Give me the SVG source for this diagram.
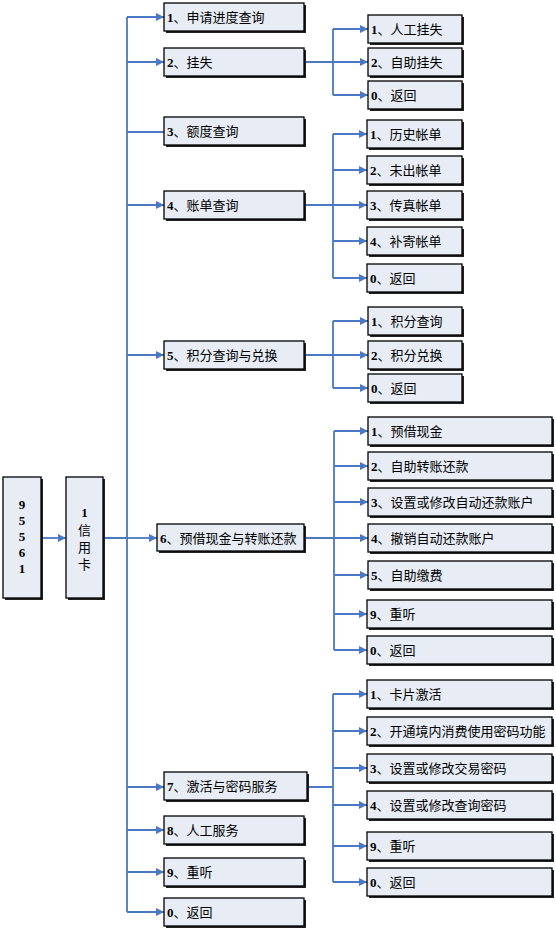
<svg xmlns="http://www.w3.org/2000/svg" width="556" height="930" viewBox="0 0 556 930">
<style>
.box{fill:#E7ECF5;stroke:#000;stroke-width:1.3}
.sh{fill:#222}
.t{font-family:"Liberation Serif","Noto Sans CJK SC",serif;font-size:13px;fill:#000}
.d{font-weight:bold}
.c{fill:none;stroke:#4A78C4;stroke-width:1.8}
.a{fill:none;stroke:#4A78C4;stroke-width:1.8;marker-end:url(#ah)}
</style>
<defs>
<marker id="ah" markerUnits="userSpaceOnUse" markerWidth="9" markerHeight="9" refX="8" refY="4.5" orient="auto">
<path d="M0,0.5 L8,4.5 L0,8.5 z" fill="#4A78C4"/>
</marker>
</defs>
<rect width="556" height="930" fill="#fff"/>
<g id="connectors">
<path class="a" d="M41,538 H66"/>
<path class="c" d="M103,538 H127 M127,17 V912"/>
<path class="a" d="M127,17 H164"/>
<path class="a" d="M127,62 H164"/>
<path class="c" d="M127,132 H164"/>
<path class="a" d="M127,205 H164"/>
<path class="a" d="M127,355 H164"/>
<path class="a" d="M127,538 H157"/>
<path class="a" d="M127,787 H164"/>
<path class="a" d="M127,830 H164"/>
<path class="a" d="M127,872 H164"/>
<path class="a" d="M127,912 H164"/>
<path class="c" d="M304,62 H333 M333,29 V95"/>
<path class="a" d="M333,29 H368"/>
<path class="a" d="M333,62 H368"/>
<path class="a" d="M333,95 H368"/>
<path class="c" d="M304,205 H333 M333,134 V278"/>
<path class="a" d="M333,134 H367"/>
<path class="a" d="M333,170 H367"/>
<path class="a" d="M333,205 H367"/>
<path class="a" d="M333,241 H367"/>
<path class="a" d="M333,278 H367"/>
<path class="c" d="M304,355 H333 M333,321 V388"/>
<path class="a" d="M333,321 H368"/>
<path class="a" d="M333,355 H368"/>
<path class="a" d="M333,388 H368"/>
<path class="c" d="M304,538 H334 M334,431 V650"/>
<path class="a" d="M334,431 H368"/>
<path class="a" d="M334,466 H368"/>
<path class="a" d="M334,502 H368"/>
<path class="a" d="M334,538 H368"/>
<path class="a" d="M334,575 H368"/>
<path class="a" d="M334,614 H367"/>
<path class="a" d="M334,650 H367"/>
<path class="c" d="M307,787 H333 M333,694 V882"/>
<path class="a" d="M333,694 H367"/>
<path class="a" d="M333,731 H367"/>
<path class="a" d="M333,768 H367"/>
<path class="a" d="M333,805 H367"/>
<path class="a" d="M333,846 H367"/>
<path class="a" d="M333,882 H367"/>
</g>
<g id="root">
<rect class="sh" x="5" y="479" width="38" height="121"/>
<rect class="box" x="3" y="477" width="38" height="121"/>
<text class="t d" text-anchor="middle" x="22"><tspan x="22" y="509">9</tspan><tspan x="22" y="525">5</tspan><tspan x="22" y="541">5</tspan><tspan x="22" y="557">6</tspan><tspan x="22" y="573">1</tspan></text>
</g>
<g id="credit">
<rect class="sh" x="68" y="479" width="37" height="121"/>
<rect class="box" x="66" y="477" width="37" height="121"/>
<text class="t" text-anchor="middle"><tspan class="d" x="84.5" y="517">1</tspan><tspan x="84.5" y="535">信</tspan><tspan x="84.5" y="552">用</tspan><tspan x="84.5" y="569">卡</tspan></text>
</g>
<g id="n1"><rect class="sh" x="166" y="5" width="140" height="28"/><rect class="box" x="164" y="3" width="140" height="28"/><text class="t" x="167" y="22"><tspan class="d">1</tspan>、申请进度查询</text></g>
<g id="n2"><rect class="sh" x="166" y="50" width="140" height="28"/><rect class="box" x="164" y="48" width="140" height="28"/><text class="t" x="167" y="67"><tspan class="d">2</tspan>、挂失</text></g>
<g id="n3"><rect class="sh" x="166" y="119" width="140" height="28"/><rect class="box" x="164" y="117" width="140" height="28"/><text class="t" x="167" y="136"><tspan class="d">3</tspan>、额度查询</text></g>
<g id="n4"><rect class="sh" x="166" y="193" width="140" height="28"/><rect class="box" x="164" y="191" width="140" height="28"/><text class="t" x="167" y="210"><tspan class="d">4</tspan>、账单查询</text></g>
<g id="n5"><rect class="sh" x="166" y="343" width="140" height="28"/><rect class="box" x="164" y="341" width="140" height="28"/><text class="t" x="167" y="360"><tspan class="d">5</tspan>、积分查询与兑换</text></g>
<g id="n6"><rect class="sh" x="159" y="526" width="147" height="27"/><rect class="box" x="157" y="524" width="147" height="27"/><text class="t" x="160" y="543"><tspan class="d">6</tspan>、预借现金与转账还款</text></g>
<g id="n7"><rect class="sh" x="166" y="774" width="143" height="28"/><rect class="box" x="164" y="772" width="143" height="28"/><text class="t" x="167" y="791"><tspan class="d">7</tspan>、激活与密码服务</text></g>
<g id="n8"><rect class="sh" x="166" y="818" width="140" height="28"/><rect class="box" x="164" y="816" width="140" height="28"/><text class="t" x="167" y="835"><tspan class="d">8</tspan>、人工服务</text></g>
<g id="n9"><rect class="sh" x="166" y="860" width="140" height="28"/><rect class="box" x="164" y="858" width="140" height="28"/><text class="t" x="167" y="877"><tspan class="d">9</tspan>、重听</text></g>
<g id="n0"><rect class="sh" x="166" y="900" width="140" height="28"/><rect class="box" x="164" y="898" width="140" height="28"/><text class="t" x="167" y="917"><tspan class="d">0</tspan>、返回</text></g>
<g id="n2-1"><rect class="sh" x="370" y="17" width="94" height="28"/><rect class="box" x="368" y="15" width="94" height="28"/><text class="t" x="371" y="34"><tspan class="d">1</tspan>、人工挂失</text></g>
<g id="n2-2"><rect class="sh" x="370" y="50" width="94" height="28"/><rect class="box" x="368" y="48" width="94" height="28"/><text class="t" x="371" y="67"><tspan class="d">2</tspan>、自助挂失</text></g>
<g id="n2-0"><rect class="sh" x="370" y="83" width="94" height="28"/><rect class="box" x="368" y="81" width="94" height="28"/><text class="t" x="371" y="100"><tspan class="d">0</tspan>、返回</text></g>
<g id="n4-1"><rect class="sh" x="369" y="122" width="95" height="28"/><rect class="box" x="367" y="120" width="95" height="28"/><text class="t" x="370" y="139"><tspan class="d">1</tspan>、历史帐单</text></g>
<g id="n4-2"><rect class="sh" x="369" y="158" width="95" height="28"/><rect class="box" x="367" y="156" width="95" height="28"/><text class="t" x="370" y="175"><tspan class="d">2</tspan>、未出帐单</text></g>
<g id="n4-3"><rect class="sh" x="369" y="193" width="95" height="28"/><rect class="box" x="367" y="191" width="95" height="28"/><text class="t" x="370" y="210"><tspan class="d">3</tspan>、传真帐单</text></g>
<g id="n4-4"><rect class="sh" x="369" y="229" width="95" height="28"/><rect class="box" x="367" y="227" width="95" height="28"/><text class="t" x="370" y="246"><tspan class="d">4</tspan>、补寄帐单</text></g>
<g id="n4-0"><rect class="sh" x="369" y="266" width="95" height="28"/><rect class="box" x="367" y="264" width="95" height="28"/><text class="t" x="370" y="283"><tspan class="d">0</tspan>、返回</text></g>
<g id="n5-1"><rect class="sh" x="370" y="309" width="94" height="28"/><rect class="box" x="368" y="307" width="94" height="28"/><text class="t" x="371" y="326"><tspan class="d">1</tspan>、积分查询</text></g>
<g id="n5-2"><rect class="sh" x="370" y="343" width="94" height="28"/><rect class="box" x="368" y="341" width="94" height="28"/><text class="t" x="371" y="360"><tspan class="d">2</tspan>、积分兑换</text></g>
<g id="n5-0"><rect class="sh" x="370" y="376" width="94" height="28"/><rect class="box" x="368" y="374" width="94" height="28"/><text class="t" x="371" y="393"><tspan class="d">0</tspan>、返回</text></g>
<g id="n6-1"><rect class="sh" x="370" y="419" width="184" height="28"/><rect class="box" x="368" y="417" width="184" height="28"/><text class="t" x="371" y="436"><tspan class="d">1</tspan>、预借现金</text></g>
<g id="n6-2"><rect class="sh" x="370" y="454" width="184" height="28"/><rect class="box" x="368" y="452" width="184" height="28"/><text class="t" x="371" y="471"><tspan class="d">2</tspan>、自助转账还款</text></g>
<g id="n6-3"><rect class="sh" x="370" y="490" width="184" height="28"/><rect class="box" x="368" y="488" width="184" height="28"/><text class="t" x="371" y="507"><tspan class="d">3</tspan>、设置或修改自动还款账户</text></g>
<g id="n6-4"><rect class="sh" x="370" y="526" width="184" height="28"/><rect class="box" x="368" y="524" width="184" height="28"/><text class="t" x="371" y="543"><tspan class="d">4</tspan>、撤销自动还款账户</text></g>
<g id="n6-5"><rect class="sh" x="370" y="563" width="184" height="28"/><rect class="box" x="368" y="561" width="184" height="28"/><text class="t" x="371" y="580"><tspan class="d">5</tspan>、自助缴费</text></g>
<g id="n6-9"><rect class="sh" x="369" y="602" width="185" height="28"/><rect class="box" x="367" y="600" width="185" height="28"/><text class="t" x="370" y="619"><tspan class="d">9</tspan>、重听</text></g>
<g id="n6-0"><rect class="sh" x="369" y="638" width="185" height="28"/><rect class="box" x="367" y="636" width="185" height="28"/><text class="t" x="370" y="655"><tspan class="d">0</tspan>、返回</text></g>
<g id="n7-1"><rect class="sh" x="369" y="682" width="185" height="28"/><rect class="box" x="367" y="680" width="185" height="28"/><text class="t" x="370" y="699"><tspan class="d">1</tspan>、卡片激活</text></g>
<g id="n7-2"><rect class="sh" x="369" y="719" width="185" height="28"/><rect class="box" x="367" y="717" width="185" height="28"/><text class="t" x="370" y="736"><tspan class="d">2</tspan>、开通境内消费使用密码功能</text></g>
<g id="n7-3"><rect class="sh" x="369" y="756" width="185" height="28"/><rect class="box" x="367" y="754" width="185" height="28"/><text class="t" x="370" y="773"><tspan class="d">3</tspan>、设置或修改交易密码</text></g>
<g id="n7-4"><rect class="sh" x="369" y="793" width="185" height="28"/><rect class="box" x="367" y="791" width="185" height="28"/><text class="t" x="370" y="810"><tspan class="d">4</tspan>、设置或修改查询密码</text></g>
<g id="n7-9"><rect class="sh" x="369" y="834" width="185" height="28"/><rect class="box" x="367" y="832" width="185" height="28"/><text class="t" x="370" y="851"><tspan class="d">9</tspan>、重听</text></g>
<g id="n7-0"><rect class="sh" x="369" y="870" width="185" height="28"/><rect class="box" x="367" y="868" width="185" height="28"/><text class="t" x="370" y="887"><tspan class="d">0</tspan>、返回</text></g>
</svg>
